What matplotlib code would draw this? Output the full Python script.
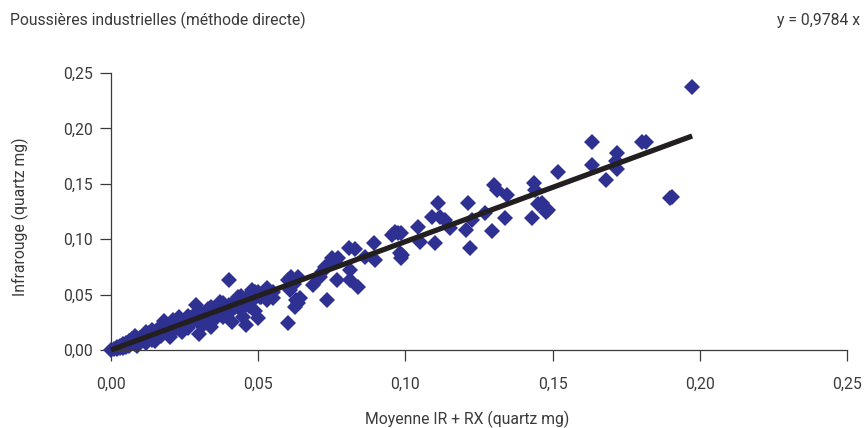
import numpy as np
import matplotlib.pyplot as plt
from matplotlib.ticker import FuncFormatter

# Moyenne IR + RX (x) et Infrarouge (y), quartz mg
moyenne = [
    0.000, 0.001, 0.002, 0.002, 0.003, 0.003, 0.004, 0.004, 0.005, 0.005,
    0.006, 0.006, 0.007, 0.007, 0.008, 0.008, 0.009, 0.009, 0.010, 0.010,
    0.011, 0.011, 0.012, 0.012, 0.013, 0.013, 0.014, 0.014, 0.015, 0.015,
    0.016, 0.016, 0.017, 0.017, 0.018, 0.018, 0.019, 0.019, 0.020, 0.020,
    0.021, 0.021, 0.022, 0.022, 0.023, 0.023, 0.024, 0.024, 0.025, 0.025,
    0.026, 0.026, 0.027, 0.027, 0.028, 0.028, 0.029, 0.029, 0.030, 0.030,
    0.030, 0.031, 0.031, 0.032, 0.032, 0.033, 0.033, 0.034, 0.034, 0.035,
    0.035, 0.036, 0.036, 0.037, 0.037, 0.038, 0.038, 0.039, 0.039, 0.040,
    0.040, 0.041, 0.041, 0.042, 0.042, 0.043, 0.043, 0.044, 0.044, 0.045,
    0.045, 0.046, 0.046, 0.047, 0.047, 0.048, 0.048, 0.049, 0.049, 0.050,
    0.050, 0.051, 0.052, 0.053, 0.053, 0.055, 0.055, 0.0506, 0.049, 0.053,
    0.060, 0.0601, 0.0608, 0.061, 0.062, 0.0625, 0.063, 0.0635, 0.0642, 0.0635,
    0.0686, 0.071, 0.0717, 0.0727, 0.0744, 0.075, 0.076, 0.077, 0.0734, 0.0768,
    0.0812, 0.0812, 0.0808, 0.083, 0.0839, 0.0863, 0.0893, 0.0897, 0.0955, 0.0965,
    0.0975, 0.098, 0.0985, 0.0985, 0.0988, 0.1043, 0.105, 0.109, 0.110, 0.111,
    0.1118, 0.1134, 0.115, 0.1206, 0.1213, 0.1219, 0.1226, 0.127, 0.1294, 0.130,
    0.131, 0.134, 0.1345, 0.143, 0.1437, 0.144, 0.145, 0.1464, 0.1478, 0.1485,
    0.1518, 0.1634, 0.1634, 0.168, 0.1715, 0.172, 0.172, 0.1804, 0.1817, 0.190,
    0.1905, 0.1974,
    0.012, 0.016, 0.021, 0.026, 0.033, 0.038, 0.044, 0.015, 0.024, 0.035,
]
infrarouge = [
    0.000, 0.001, 0.003, 0.001, 0.002, 0.004, 0.005, 0.002, 0.006, 0.003,
    0.004, 0.008, 0.006, 0.010, 0.005, 0.013, 0.008, 0.004, 0.011, 0.007,
    0.009, 0.013, 0.010, 0.006, 0.015, 0.011, 0.009, 0.018, 0.014, 0.011,
    0.016, 0.012, 0.020, 0.013, 0.026, 0.017, 0.015, 0.021, 0.019, 0.012,
    0.023, 0.017, 0.020, 0.026, 0.030, 0.019, 0.024, 0.016, 0.025, 0.021,
    0.027, 0.020, 0.029, 0.024, 0.026, 0.031, 0.028, 0.041, 0.035, 0.014,
    0.025, 0.030, 0.022, 0.033, 0.027, 0.031, 0.036, 0.021, 0.039, 0.034,
    0.029, 0.037, 0.031, 0.043, 0.035, 0.040, 0.030, 0.038, 0.033, 0.063,
    0.041, 0.025, 0.036, 0.044, 0.039, 0.048, 0.042, 0.036, 0.046, 0.043,
    0.030, 0.045, 0.023, 0.050, 0.040, 0.054, 0.045, 0.047, 0.035, 0.052,
    0.029, 0.048, 0.050, 0.045, 0.056, 0.047, 0.052, 0.048, 0.052, 0.051,
    0.024, 0.063, 0.054, 0.066, 0.060, 0.039, 0.045, 0.066, 0.047, 0.042,
    0.059, 0.066, 0.0704, 0.075, 0.0785, 0.083, 0.079, 0.083, 0.045, 0.063,
    0.063, 0.072, 0.092, 0.091, 0.057, 0.084, 0.0966, 0.081, 0.104, 0.1065,
    0.1056, 0.0875, 0.083, 0.1056, 0.0857, 0.111, 0.0975, 0.120, 0.0966, 0.1327,
    0.120, 0.117, 0.110, 0.108, 0.1327, 0.092, 0.117, 0.1236, 0.107, 0.149,
    0.144, 0.119, 0.140, 0.119, 0.1507, 0.144, 0.132, 0.1327, 0.125, 0.126,
    0.1607, 0.1877, 0.167, 0.153, 0.171, 0.178, 0.163, 0.188, 0.188, 0.137,
    0.138, 0.2374,
    0.016, 0.019, 0.027, 0.031, 0.037, 0.042, 0.049, 0.008, 0.017, 0.027,
]
pente = 0.9784
ticks = [0.00, 0.05, 0.10, 0.15, 0.20, 0.25]

bleu = '#2E3192'
gris = '#3a3a3a'
plt.rcParams['font.family'] = ['Roboto', 'DejaVu Sans']
fs = 11.3

fig = plt.figure(figsize=(8.65, 4.28), dpi=100)
ax = fig.add_axes([111/865, 78/428, 736/865, 277/428])

ax.plot(moyenne, infrarouge, 'D', color=bleu, markersize=8, markeredgewidth=0,
        clip_on=False, zorder=2)
xl = np.array([0.0, max(moyenne)])
ax.plot(xl, pente * xl, color='#231f20', linewidth=3.8, solid_capstyle='butt',
        clip_on=False, zorder=3)

ax.set_xlim(0, 0.25)
ax.set_ylim(0, 0.25)
ax.set_xticks(ticks)
ax.set_yticks(ticks)
fmt = FuncFormatter(lambda v, p: f'{v:.2f}'.replace('.', ','))
ax.xaxis.set_major_formatter(fmt)
ax.yaxis.set_major_formatter(fmt)

for s in ['top', 'right']:
    ax.spines[s].set_visible(False)
for s in ['left', 'bottom']:
    ax.spines[s].set_color(gris)
    ax.spines[s].set_linewidth(0.9)
ax.tick_params(axis='both', direction='out', length=8, width=0.9, color=gris,
               labelcolor=gris, labelsize=fs)
ax.tick_params(axis='x', pad=11)
ax.tick_params(axis='y', pad=5)

fig.text(20/865, 211/428, 'Infrarouge (quartz mg)', color=gris, fontsize=fs,
         rotation=90, ha='center', va='center')
fig.text(467/865, 1 - 419/428, 'Moyenne IR + RX (quartz mg)', color=gris,
         fontsize=fs, ha='center', va='center')
fig.text(10/865, 1 - 20/428, 'Poussières industrielles (méthode directe)',
         color=gris, fontsize=fs, ha='left', va='center')
fig.text(860/865, 1 - 20/428, 'y = 0,9784 x', color=gris, fontsize=fs,
         ha='right', va='center')

fig.savefig('out.png', dpi=100)
